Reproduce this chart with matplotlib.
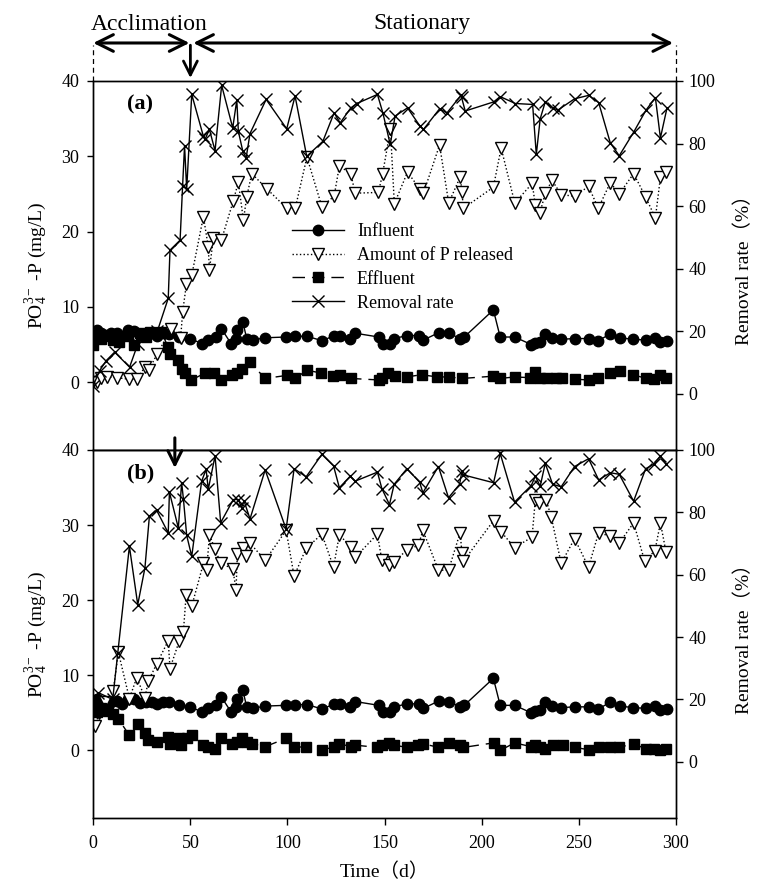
import matplotlib
matplotlib.use("Agg")
import matplotlib.pyplot as plt

plt.rcParams['font.family'] = ['Liberation Serif', 'Noto Sans CJK SC']
plt.rcParams['mathtext.fontset'] = 'custom'
plt.rcParams['mathtext.rm'] = 'Liberation Serif'
plt.rcParams['mathtext.it'] = 'Liberation Serif:italic'

# influent is the same for both reactors
inf_days = [0, 2, 4, 6, 9, 12, 15, 18, 21, 24, 27, 30, 33, 36, 39, 44, 50, 56, 59, 63,
            66, 71, 73.5, 74, 77, 79, 82, 88.5, 99, 104, 110, 118, 124, 127, 132, 135, 147, 149, 153, 155,
            161.5, 167.5, 170, 178, 183, 189, 191, 206, 209.5, 217, 225.5, 227.5, 230, 232.5, 236, 241, 248, 255, 260, 266,
            271, 278, 284.5, 289, 292, 295.5]
inf_vals = [6.4, 6.9, 6.6, 6.3, 6.5, 6.6, 6.2, 6.9, 6.8, 6.3, 6.4, 6.5, 6.2, 6.5, 6.4, 6.0, 5.8, 5.1, 5.6, 6.0,
            7.1, 5.1, 5.8, 6.9, 8.0, 5.8, 5.6, 5.9, 6.0, 6.1, 6.1, 5.5, 6.2, 6.2, 5.8, 6.5, 6.0, 5.1, 5.1, 5.8,
            6.2, 6.2, 5.6, 6.6, 6.5, 5.8, 6.0, 9.6, 6.0, 6.0, 5.0, 5.2, 5.4, 6.4, 5.9, 5.7, 5.8, 5.8, 5.5, 6.4,
            5.9, 5.7, 5.6, 5.9, 5.4, 5.5]

# (a)
eff_a_days = [0, 2, 4, 7, 10, 13, 18, 21, 24, 27, 29, 32, 35, 38.5, 39.5, 43.5, 45.5, 47, 50.5, 57.5,
              62, 66, 71.5, 74, 76.5, 80.5, 88.5, 99.5, 104, 110, 117.5, 123.5, 127, 132.5, 147, 148.5, 152, 155.5, 161.5, 169,
              177, 183, 190, 206, 209.5, 217, 225, 227.5, 230, 233.5, 238, 241.5, 248, 255, 260, 266, 271, 278, 284.5, 288.5,
              292, 295]
eff_a = [5.0, 6.0, 5.8, 6.2, 5.6, 5.3, 6.2, 5.0, 6.5, 6.0, 6.7, 6.6, 6.7, 4.7, 3.8, 2.9, 1.8, 1.2, 0.3, 1.2,
         1.2, 0.3, 0.9, 1.2, 1.8, 2.7, 0.5, 0.9, 0.5, 1.6, 1.2, 0.8, 0.9, 0.5, 0.3, 0.6, 1.2, 0.8, 0.7, 1.0,
         0.7, 0.7, 0.5, 0.8, 0.5, 0.7, 0.6, 1.4, 0.6, 0.6, 0.6, 0.6, 0.4, 0.3, 0.5, 1.2, 1.5, 1.0, 0.5, 0.4,
         0.9, 0.6]
rel_a_days = [0, 1.7, 4, 6.9, 12, 18.6, 22.5, 26.5, 28.5, 33, 40, 45, 46, 48, 50.7, 56.7, 59.2, 59.8, 61.8, 66,
              72, 74.7, 77.3, 79, 81.6, 89.3, 99.6, 104, 110, 117.7, 124, 126.7, 132.6, 134.8, 146.8, 149, 153, 155, 161.8, 168,
              170, 178.3, 183, 189, 189.8, 190.6, 206, 210, 217, 226, 227.6, 230, 232.7, 236.2, 241, 247.8, 255, 260, 266.2, 270.8,
              278.2, 284.4, 289.4, 292, 295]
rel_a = [0.0, 0.0, 0.5, 0.7, 0.6, 0.4, 0.4, 2.0, 1.6, 3.8, 7.0, 5.9, 9.3, 13.1, 14.2, 22.0, 18.0, 14.9, 19.1, 18.9,
         24.0, 26.6, 21.5, 24.6, 27.7, 25.7, 23.1, 23.1, 29.9, 23.3, 24.7, 28.7, 27.7, 25.1, 25.2, 27.7, 33.6, 23.7, 27.9, 25.7,
         25.1, 31.5, 23.8, 27.3, 25.2, 23.1, 25.9, 31.1, 23.8, 26.4, 23.5, 22.5, 25.1, 26.8, 24.9, 24.7, 26.0, 23.1, 26.5, 25.0,
         27.7, 24.6, 21.8, 27.2, 27.9]
rem_a_days = [0, 3.3, 6.7, 11, 18.7, 23, 33, 38.6, 39.5, 44.7, 46, 47, 48.1, 50.7, 56.7, 57.5, 59.8, 62.7, 66.1, 71.8,
              73.9, 74.7, 77, 78.7, 80.7, 89, 99.6, 103.9, 109.9, 118.2, 124, 127.1, 132.6, 135.7, 146.3, 149.1, 152.9, 155.4, 161.8, 168.3,
              170, 178.3, 182.1, 189.3, 189.6, 191.5, 206.1, 209.5, 217.3, 226.2, 228.1, 230.1, 232.7, 236.5, 239.2, 247.8, 255, 260.2, 266.2, 270.8,
              278.2, 284.6, 289.4, 292, 295.4]
rem_a = [2.6, 7.4, 10.6, 13.3, 8.5, 16, 20, 30.5, 45.9, 49.1, 66.5, 79.3, 65.4, 95.7, 82.3, 81.3, 84.5, 77.7, 98.6, 85,
         93.9, 83.9, 77.5, 75.4, 83.2, 94.1, 84.7, 95.2, 75.9, 80.7, 89.8, 86.6, 91.4, 92.8, 95.7, 89.8, 79.7, 88.8, 91.4, 85.5,
         84.5, 91.1, 89.8, 95.4, 94.8, 90.4, 93.3, 95, 92.8, 92.5, 76.5, 87.9, 93.3, 91.4, 90.7, 94.3, 95.4, 93.1, 80.2, 76.1,
         83.6, 90.7, 94.7, 81.8, 91.4]

# (b)
eff_b_days = [0, 2, 4, 7.7, 10.3, 12.9, 18.6, 22.9, 26.6, 28.3, 32.6, 38.6, 39.5, 44.3, 45, 48.1, 50.7, 56.7, 59.2, 62.7,
              65.6, 71.3, 73.9, 76.4, 78.9, 81.6, 88.5, 99.3, 103.4, 109.6, 117.7, 123.7, 126.7, 132.6, 134.8, 146.3, 148.6, 152.5, 154.9, 161.5,
              167.4, 169.7, 177.7, 182.9, 188.6, 190.6, 206.1, 209.5, 216.9, 225.5, 227.6, 230.1, 232.7, 236.5, 241.6, 247.8, 255, 260.2, 266.2, 270.8,
              278.2, 284.4, 288.5, 292, 294.9]
eff_b = [5.3, 5.1, 5.6, 5.3, 4.9, 4.2, 2.0, 3.5, 2.3, 1.4, 1.1, 1.8, 0.9, 1.6, 0.7, 1.6, 2.0, 0.7, 0.5, 0.2,
         1.7, 0.9, 1.1, 1.6, 1.1, 0.9, 0.5, 1.6, 0.4, 0.5, 0.1, 0.4, 0.9, 0.5, 0.7, 0.4, 0.7, 1.0, 0.7, 0.4,
         0.7, 0.9, 0.4, 1.0, 0.7, 0.4, 1.0, 0.0, 1.0, 0.5, 0.7, 0.5, 0.2, 0.7, 0.7, 0.4, 0.1, 0.5, 0.4, 0.4,
         0.9, 0.2, 0.2, 0.1, 0.2]
rel_b_days = [0.9, 3, 6, 10.3, 12.9, 18.6, 22.4, 26.6, 28.3, 32.6, 38.6, 39.5, 44.3, 46.4, 47.8, 50.7, 56.7, 58.4, 59.8, 62.7,
              65.6, 71.8, 73.5, 74.2, 77, 78.7, 80.7, 88.5, 99.3, 103.4, 109.6, 117.7, 123.7, 126.7, 132.6, 134.8, 146.3, 148.6, 152.5, 154.9,
              161.5, 167.4, 169.7, 177.7, 182.9, 188.9, 189.8, 190.6, 206.1, 210, 216.9, 225.9, 227.6, 229.6, 233.1, 235.8, 240.9, 247.8, 255, 260.2,
              266.2, 270.8, 278.2, 283.9, 289.2, 292, 294.9]
rel_b = [3.2, 5.0, 6.4, 7.9, 13.1, 6.9, 9.7, 7.0, 9.2, 11.5, 14.6, 10.9, 14.6, 15.8, 20.7, 19.2, 24.9, 24.0, 28.7, 26.8,
         24.9, 24.2, 21.4, 26.2, 26.9, 25.9, 27.6, 25.3, 29.3, 23.2, 26.9, 28.8, 24.4, 28.7, 27.1, 25.7, 28.8, 25.3, 24.7, 25.1,
         26.7, 27.3, 29.3, 24.0, 24.0, 29.0, 26.3, 25.2, 30.6, 29.1, 27.0, 28.4, 33.4, 33.0, 33.4, 31.1, 24.9, 28.2, 24.4, 29.0,
         28.5, 27.6, 30.3, 25.2, 26.6, 30.3, 26.4]
rem_b_days = [0, 2.6, 10, 12.6, 18.6, 22.9, 26.6, 28.9, 32.6, 38.6, 39.2, 43.8, 45.5, 46.4, 48.1, 50.7, 55.8, 58.1, 59.2, 62.7,
              65.6, 72.1, 74.7, 76.4, 77.6, 80.7, 88.5, 99.3, 103.4, 109.6, 117.7, 123.7, 126.7, 132.3, 134.8, 146.3, 148.6, 152.5, 154.9, 161.5,
              168, 169.7, 177.7, 182.9, 188.6, 189.8, 190.6, 206.1, 209.5, 216.9, 225.5, 227.6, 230.1, 232.7, 236.5, 240.9, 247.8, 255, 260.2, 266.2,
              270.8, 278.2, 284.4, 288.5, 292, 294.9]
rem_b = [20, 22.2, 20, 34.8, 69.1, 50.4, 62.2, 78.8, 80.7, 73.4, 86.5, 75, 89.5, 84.4, 72.6, 65.9, 90, 93.8, 87.4, 98.1,
         76.7, 84.1, 84.1, 81.5, 83.7, 77.9, 93.6, 74.6, 94, 91.4, 98.6, 94.9, 87.9, 91.6, 90, 92.9, 87.6, 82.5, 89, 94,
         89.7, 86.3, 94.7, 84.7, 89, 93.2, 92, 89.5, 98.9, 83.3, 88.6, 91.6, 88.4, 95.7, 89, 88.2, 94.7, 97.2, 90.4, 92.7,
         92.2, 83.6, 94, 95.4, 98.1, 95.4]

fig = plt.figure(figsize=(7.67, 8.90), dpi=100)
ax1 = fig.add_axes([0.1216, 0.4944, 0.7597, 0.4146])
ax2 = fig.add_axes([0.1216, 0.0809, 0.7597, 0.4135])

ylab = 'PO$_4^{3-}$ -P (mg/L)'
rlab = 'Removal rate（%）'


def draw_panel(ax, eff_d, eff, rel_d, rel, rem_d, rem, tag):
    l1, = ax.plot(inf_days, inf_vals, '-', color='k', lw=1.0, marker='o', ms=7.5, mfc='k', mec='k',
                  label='Influent')
    l2, = ax.plot(rel_d, rel, ':', color='k', lw=1.0, marker='v', ms=8, mfc='white', mec='k', mew=1.0,
                  label='Amount of P released')
    l3, = ax.plot(eff_d, eff, '--', color='k', lw=1.0, dashes=(9, 5), marker='s', ms=7, mfc='k', mec='k',
                  label='Effluent')
    ax.set_xlim(0, 300)
    ax.set_ylim(-9, 40)
    ax.set_yticks([0, 10, 20, 30, 40])
    ax.tick_params(axis='y', direction='out', length=4, width=1, labelsize=13, pad=6)
    ax.set_ylabel(ylab, fontsize=14, labelpad=9)
    for s in ax.spines.values():
        s.set_linewidth(1.0)
    axr = ax.twinx()
    l4, = axr.plot(rem_d, rem, '-', color='k', lw=1.0, marker='x', ms=8, mew=1.0, label='Removal rate')
    axr.set_ylim(-18, 100)
    axr.set_yticks([0, 20, 40, 60, 80, 100])
    axr.tick_params(axis='y', direction='out', length=5, width=1, labelsize=13, pad=4)
    axr.set_ylabel(rlab, fontsize=14, labelpad=14)
    for s in axr.spines.values():
        s.set_linewidth(1.0)
    ax.text(0.058, 0.935, tag, transform=ax.transAxes, fontsize=16, fontweight='bold', va='center')
    return [l1, l2, l3, l4], axr


handles, ax1r = draw_panel(ax1, eff_a_days, eff_a, rel_a_days, rel_a, rem_a_days, rem_a, '(a)')
_, ax2r = draw_panel(ax2, eff_b_days, eff_b, rel_b_days, rel_b, rem_b_days, rem_b, '(b)')

ax1.tick_params(axis='x', bottom=False, labelbottom=False)
ax2.set_xticks([0, 50, 100, 150, 200, 250, 300])
ax2.tick_params(axis='x', direction='out', length=5, width=1, labelsize=13, pad=7)
ax2.set_xlabel('Time（d）', fontsize=14, labelpad=8)

ax1r.legend(handles=handles, loc='upper left', bbox_to_anchor=(0.341, 0.615), frameon=False,
            fontsize=13, numpoints=1, handlelength=2.9, handletextpad=0.7, labelspacing=0.38,
            borderpad=0, borderaxespad=0)

# phase annotations above panel (a)
tr = ('data', 'axes fraction')
ax1.annotate('', xy=(0, 1.103), xytext=(49.5, 1.103), xycoords=tr, textcoords=tr,
             arrowprops=dict(arrowstyle='<->', lw=2.2, mutation_scale=30, shrinkA=0, shrinkB=0, color='k'),
             annotation_clip=False)
ax1.annotate('', xy=(51.5, 1.103), xytext=(298.5, 1.103), xycoords=tr, textcoords=tr,
             arrowprops=dict(arrowstyle='<->', lw=2.2, mutation_scale=30, shrinkA=0, shrinkB=0, color='k'),
             annotation_clip=False)
ax1.annotate('', xy=(50, 1.008), xytext=(50, 1.097), xycoords=tr, textcoords=tr,
             arrowprops=dict(arrowstyle='->', lw=2.0, mutation_scale=25, shrinkA=0, shrinkB=0, color='k'),
             annotation_clip=False)
for xd in [0, 300]:
    ax1.plot([xd, xd], [1.0, 1.098], transform=ax1.get_xaxis_transform(), color='k', lw=0.9,
             ls=(0, (4, 3)), clip_on=False)
ax1.text(29, 1.152, 'Acclimation', transform=ax1.get_xaxis_transform(), fontsize=17,
         ha='center', va='center')
ax1.text(169, 1.155, 'Stationary', transform=ax1.get_xaxis_transform(), fontsize=17,
         ha='center', va='center')

ax2.annotate('', xy=(42, 0.951), xytext=(42, 1.033), xycoords=tr, textcoords=tr,
             arrowprops=dict(arrowstyle='->', lw=2.2, mutation_scale=25, shrinkA=0, shrinkB=0, color='k'),
             annotation_clip=False)

fig.savefig('out.png', dpi=100)
